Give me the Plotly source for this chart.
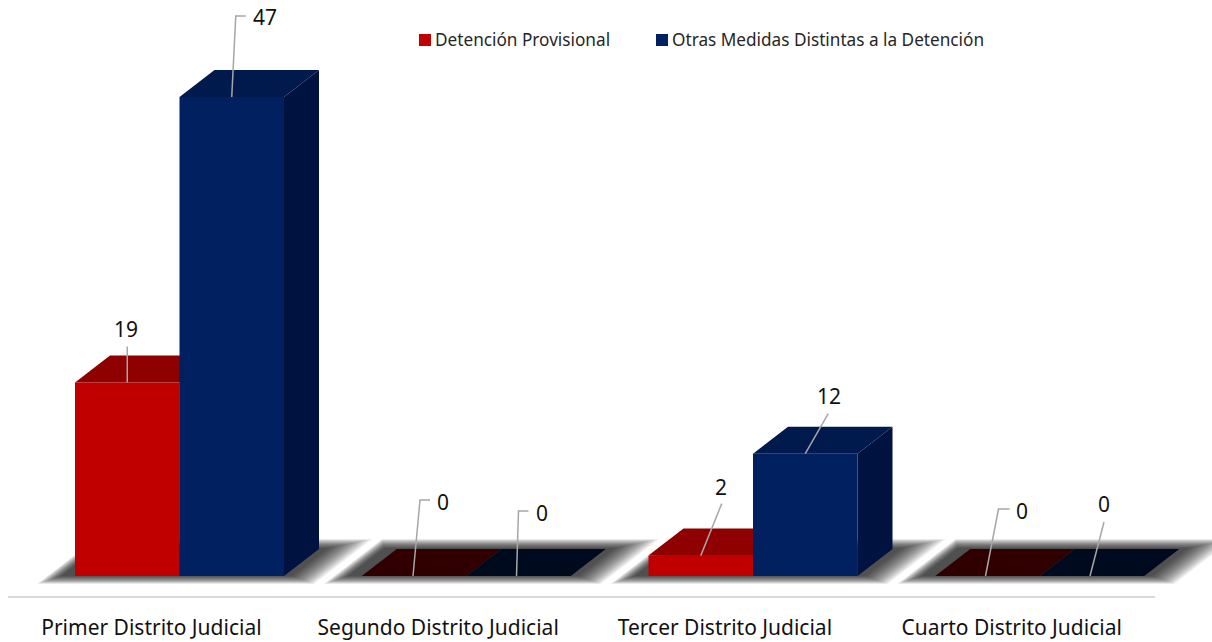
import plotly.graph_objects as go

categories = ['Primer Distrito Judicial', 'Segundo Distrito Judicial',
              'Tercer Distrito Judicial', 'Cuarto Distrito Judicial']
series_names = ['Detención Provisional', 'Otras Medidas Distintas a la Detención']
detencion = [19, 0, 2, 0]
otras = [47, 0, 12, 0]

FONT = 'Noto Sans'
WIDTH, HEIGHT = 1212, 642
PLOT_H = 607

# pixel scales of the two axes
PX_X = 286.75
PX_Y = 10.19
X0_PX = 151.4
Y0_PX = 576

BAR_W = 104.5 / PX_X
SHIFT = 28.1 / PX_X
DX = 35 / PX_X
DY = 27 / PX_Y

# (front, top, side, top when the value is zero)
RED = ('#C00000', '#8F0000', '#700000', '#300000')
BLUE = ('#002060', '#001A4D', '#001340', '#000A1E')

# leader line points and label position, pixels from the top centre of each bar
RED_LEADERS = [[(0, 0), (0, -36)], [(-1, 0), (6, -76), (16, -76)],
               [(0, 0), (21, -52)], [(-2, 0), (11, -67), (22, -67)]]
RED_LABELS = [(-1, -53), (29, -74), (20, -69), (34, -65)]
BLUE_LEADERS = [[(0, 0), (4, -81), (14, -81)], [(-2, 0), (0, -65), (10, -65)],
                [(0, 0), (23, -40)], [(-2, 0), (12, -54)]]
BLUE_LABELS = [(33, -80), (23, -63), (24, -58), (12, -72)]


def poly(points, color, opacity=1.0):
    path = 'M' + 'L'.join(f'{x},{y}' for x, y in points) + 'Z'
    return dict(type='path', path=path, xref='x', yref='y', layer='below',
                fillcolor=color, opacity=opacity, line_width=0)


def floor_shadow(i, steps=18):
    # no blur available, so stack thin translucent floors from wide to narrow
    shapes = []
    left = i + SHIFT - BAR_W
    right = i + SHIFT + BAR_W
    for s in range(steps):
        t = 1 - s / (steps - 1)
        ml = (14 + 24 * t) / PX_X
        mr = (8 + 22 * t) / PX_X
        bottom = -(0 + 8 * t) / PX_Y
        top = DY + (1 + 9 * t) / PX_Y
        slant = (top - bottom) * DX / DY
        shapes.append(poly([(left - ml, bottom), (right + mr, bottom),
                            (right + mr + slant, top), (left - ml + slant, top)],
                           '#000000', 0.058))
    return shapes


def faces(i, value, left, colors):
    right = left + BAR_W
    top_color = colors[3] if value == 0 else colors[1]
    top = poly([(left, value), (right, value), (right + DX, value + DY), (left + DX, value + DY)],
               top_color)
    side = poly([(right, 0), (right + DX, DY), (right + DX, value + DY), (right, value)], colors[2])
    return [side, top] if value > 0 else [top]


def leader_trace(values, lefts, leaders):
    xs, ys = [], []
    for value, left, pts in zip(values, lefts, leaders):
        for px, py in pts:
            xs.append(left + BAR_W / 2 + px / PX_X)
            ys.append(value - py / PX_Y)
        xs.append(None)
        ys.append(None)
    return go.Scatter(x=xs, y=ys, mode='lines', showlegend=False, hoverinfo='skip',
                      line=dict(color='#A6A6A6', width=1.5))


def value_labels(values, lefts, labels):
    out = []
    for value, left, (px, py) in zip(values, lefts, labels):
        out.append(dict(x=left + BAR_W / 2, y=value, xshift=px, yshift=-py, text=str(value),
                        showarrow=False, xanchor='center', yanchor='middle',
                        font=dict(family=FONT, size=21, color='#111111')))
    return out


positions = list(range(len(categories)))
red_lefts = [i + SHIFT - BAR_W for i in positions]
blue_lefts = [i + SHIFT for i in positions]

shapes = []
for i in positions:
    shapes += floor_shadow(i)
for i in positions:
    shapes += faces(i, detencion[i], red_lefts[i], RED)
    shapes += faces(i, otras[i], blue_lefts[i], BLUE)

# baseline of the category axis
shapes.append(dict(type='line', xref='x', yref='y', layer='below',
                   x0=-0.5, x1=3.5, y0=-21 / PX_Y, y1=-21 / PX_Y,
                   line=dict(color='#D9D9D9', width=2)))

fig = go.Figure()
fig.add_trace(go.Bar(x=positions, y=detencion, name=series_names[0], width=BAR_W,
                     offset=SHIFT - BAR_W, marker=dict(color=RED[0], line_width=0), showlegend=False))
fig.add_trace(go.Bar(x=positions, y=otras, name=series_names[1], width=BAR_W,
                     offset=SHIFT, marker=dict(color=BLUE[0], line_width=0), showlegend=False))
fig.add_trace(leader_trace(detencion, red_lefts, RED_LEADERS))
fig.add_trace(leader_trace(otras, blue_lefts, BLUE_LEADERS))

annotations = value_labels(detencion, red_lefts, RED_LABELS) + value_labels(otras, blue_lefts, BLUE_LABELS)

# legend keys placed by hand, the built-in legend keeps too wide a gap to its text
for name, color, swatch_px in zip(series_names, (RED[0], BLUE[0]), (419, 656)):
    shapes.append(dict(type='rect', xref='paper', yref='paper', line_width=0, fillcolor=color,
                       x0=swatch_px / WIDTH, x1=(swatch_px + 12) / WIDTH,
                       y0=1 - 46 / PLOT_H, y1=1 - 34 / PLOT_H))
    annotations.append(dict(xref='paper', yref='paper', x=(swatch_px + 16) / WIDTH, y=1 - 40 / PLOT_H,
                            text=name, showarrow=False, xanchor='left', yanchor='middle', xshift=-2,
                            font=dict(family=FONT, size=17.2, color='#262626')))

fig.update_layout(
    width=WIDTH, height=HEIGHT, barmode='overlay', template=None,
    paper_bgcolor='white', plot_bgcolor='white',
    margin=dict(l=0, r=0, t=0, b=HEIGHT - PLOT_H, pad=0),
    shapes=shapes, annotations=annotations, showlegend=False,
    xaxis=dict(range=[-X0_PX / PX_X, (WIDTH - X0_PX) / PX_X], tickvals=positions, ticktext=categories,
               showgrid=False, zeroline=False, showline=False, ticks='', ticklabelstandoff=6,
               tickfont=dict(family=FONT, size=21, color='#111111')),
    yaxis=dict(range=[-(PLOT_H - Y0_PX) / PX_Y, Y0_PX / PX_Y], visible=False),
)

# body margin would push the whole chart 8px down and right
fig.write_html('out.html', config={'displayModeBar': False},
               post_script="document.body.style.margin='0'")
